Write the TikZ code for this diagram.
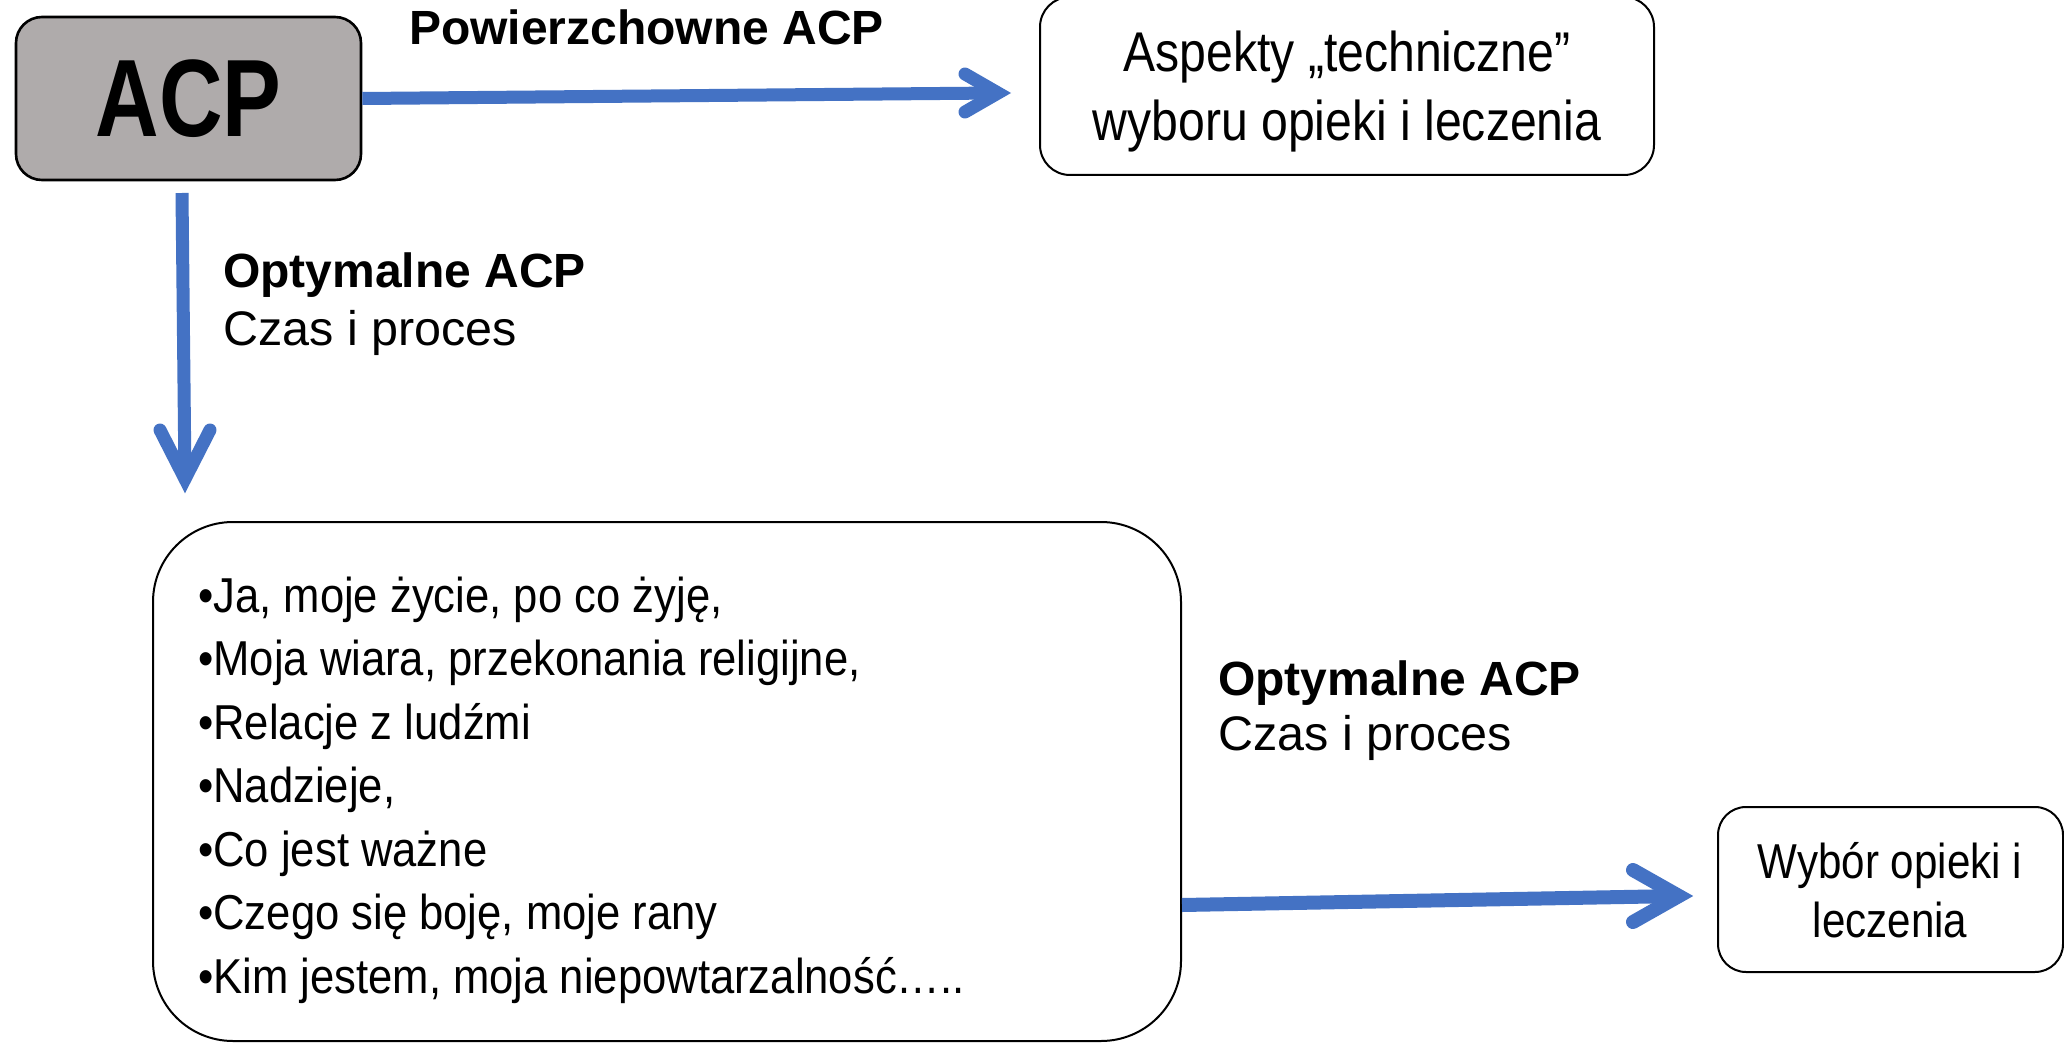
\documentclass[tikz,border=0pt]{standalone}
\usepackage{fontspec}
\setmainfont{Liberation Sans}
\newfontfamily\narrowfont{Liberation Sans}[FakeStretch=0.86]
\newfontfamily\bulfont{Liberation Sans}[FakeStretch=0.89]
\newfontfamily\acpfont{Liberation Sans}[FakeStretch=0.8]
\usetikzlibrary{calc}
\definecolor{acpblue}{RGB}{68,114,196}
\definecolor{acpgray}{RGB}{175,171,171}
\begin{document}
\begin{tikzpicture}[x=1pt,y=-1pt,
  box/.style={draw=black, line width=2pt, rounded corners=28pt, fill=white, inner sep=0pt},
  shaft/.style={draw=acpblue, line width=13pt, line cap=butt},
  barb/.style={draw=acpblue, line width=13pt, line cap=round, line join=miter, miter limit=10},
  lbl/.style={inner sep=0pt, anchor=base west, font=\fontsize{48.5}{58}\selectfont},
  lblb/.style={inner sep=0pt, anchor=base west, font=\fontsize{48}{58}\selectfont\bfseries},
  boxtxt/.style={inner sep=0pt, anchor=base, font=\narrowfont\fontsize{56}{68}\selectfont},
  smalltxt/.style={inner sep=0pt, anchor=base, font=\narrowfont\fontsize{49}{59}\selectfont},
  bul/.style={inner sep=0pt, anchor=base west, font=\bulfont\fontsize{49}{59}\selectfont}]
\useasboundingbox (0,0) rectangle (2064,1043);
\fill[white] (0,0) rectangle (2064,1043);

% boxes
\node[box, fill=acpgray, line width=2.6pt, rounded corners=26pt,
      minimum width=345pt, minimum height=163pt,
      font=\acpfont\bfseries\fontsize{110}{120}\selectfont] (acp) at (188.5,98.5) {ACP};
\node[box, rounded corners=30pt, minimum width=614pt, minimum height=178pt] (tech) at (1347,86) {};
\node[box, rounded corners=80pt, minimum width=1028pt, minimum height=519pt] (big) at (667,781.5) {};
\node[box, rounded corners=28pt, minimum width=345pt, minimum height=165pt] (wyb) at (1890.5,889.5) {};

% box texts
\node[boxtxt] (t1) at (1347,72) {Aspekty „techniczne”};
\node[boxtxt] (t2) at (1347,141) {wyboru opieki i leczenia};
\node[smalltxt] (w1) at (1890,878) {Wybór opieki i};
\node[smalltxt] (w2) at (1890,937) {leczenia};

\node[bul] (b1) at (198,612) {•Ja, moje życie, po co żyję,};
\node[bul] (b2) at (198,675.5) {•Moja wiara, przekonania religijne,};
\node[bul] (b3) at (198,739) {•Relacje z ludźmi};
\node[bul] (b4) at (198,802.5) {•Nadzieje,};
\node[bul] (b5) at (198,866) {•Co jest ważne};
\node[bul] (b6) at (198,929.5) {•Czego się boję, moje rany};
\node[bul] (b7) at (198,993) {•Kim jestem, moja niepowtarzalność…..};

% labels
\node[lblb] (pa) at (409,45) {Powierzchowne ACP};
\node[lblb] (o1) at (223,287) {Optymalne ACP};
\node[lbl] (c1) at (223,345) {Czas i proces};
\node[lblb] (o2) at (1218,695) {Optymalne ACP};
\node[lbl] (c2) at (1218,750) {Czas i proces};

% arrows
\coordinate (v1) at (998,93);
\coordinate (s2) at (182,193);
\coordinate (v2) at (185,479);
\coordinate (s3) at (1182,905);
\coordinate (v3) at (1679,896);

\draw[shaft] (acp.east) -- (v1);
\draw[barb] ($(v1)+(-33,-19)$) -- (v1) -- ($(v1)+(-33,19)$);

\draw[shaft] (s2) -- (v2);
\draw[barb] ($(v2)+(-25,-49)$) -- (v2) -- ($(v2)+(25,-49)$);

\draw[shaft, line width=14pt] (s3) -- (v3);
\draw[barb, line width=14pt] ($(v3)+(-46,-26)$) -- (v3) -- ($(v3)+(-46,26)$);
\end{tikzpicture}
\end{document}
